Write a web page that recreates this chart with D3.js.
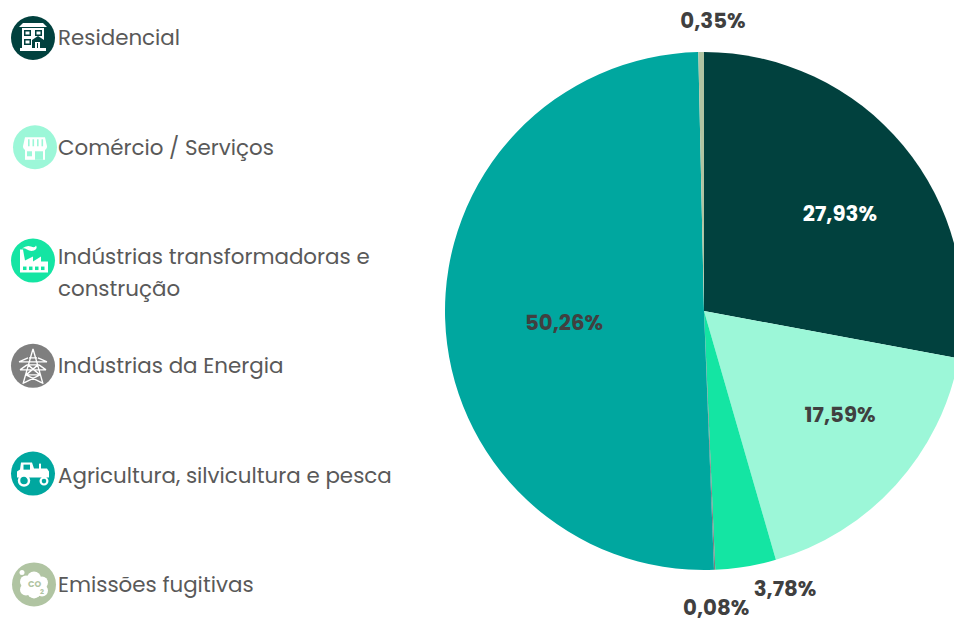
<!DOCTYPE html>
<html><head><meta charset="utf-8">
<script src="https://cdn.jsdelivr.net/npm/d3@7"></script>
<style>
html,body{margin:0;padding:0;background:#fff;overflow:hidden}
svg{display:block}
</style></head><body>
<svg id="c" width="954" height="618"></svg>
<script>
const categories=["Residencial","Comércio / Serviços","Indústrias transformadoras e construção","Indústrias da Energia","Agricultura, silvicultura e pesca","Emissões fugitivas"];
const legendLines=[["Residencial"],["Comércio / Serviços"],["Indústrias transformadoras e","construção"],["Indústrias da Energia"],["Agricultura, silvicultura e pesca"],["Emissões fugitivas"]];
const values=[27.93,17.59,3.78,0.08,50.26,0.35];
const valueLabels=["27,93%","17,59%","3,78%","0,08%","50,26%","0,35%"];
const colors=["#01413e","#9cf7d8","#14e5a3","#7f7f7f","#00a79f","#b0c4a2"];
const labelColors=["#ffffff","#404040","#404040","#404040","#404040","#404040"];

const svg=d3.select("#c");
const cx=704,cy=311,R=259;
const pie=d3.pie().value(d=>d).sort(null).startAngle(0).endAngle(2*Math.PI);
const arc=d3.arc().innerRadius(0).outerRadius(R);
const arcs=pie(values);
const g=svg.append("g").attr("transform",`translate(${cx},${cy})`);
g.selectAll("path").data(arcs).join("path").attr("d",arc).attr("fill",(d,i)=>colors[i]);

// label placement: polar offset from pie centre
const labelRadius=[0.647,0.659,1.114,1.147,0.542,1.124];
const labelShift=[3.9,-5.1,-7,0,-2.7,2.4];   // degrees
g.selectAll("text").data(arcs).join("text")
 .attr("transform",(d,i)=>{
   const a=(d.startAngle+d.endAngle)/2+labelShift[i]*Math.PI/180, r=labelRadius[i]*R;
   return `translate(${r*Math.sin(a)},${-r*Math.cos(a)})`;
 })
 .attr("text-anchor","middle").attr("dy","0.36em")
 .attr("font-family","Poppins, Inter, sans-serif").attr("font-weight",700).attr("font-size",21.3)
 .attr("fill",(d,i)=>labelColors[i])
 .text((d,i)=>valueLabels[i]);

// legend
const rowY=d3.scalePoint().domain(categories).range([38,584.4]);
const iconX=[33,35,33,33,33,34], iconDy=[0,0,4,0,-1.5,0];
const leg=svg.append("g").selectAll("g").data(categories).join("g");
leg.append("text")
 .attr("font-family","Poppins, 'Open Sans', sans-serif").attr("font-size",21.4).attr("fill","#595959")
 .each(function(c,i){
   d3.select(this).selectAll("tspan").data(legendLines[i]).join("tspan")
    .attr("x",58).attr("y",(l,j)=>rowY(c)+7.45+j*32).text(l=>l);
 });
const icons=leg.append("g").attr("transform",(c,i)=>`translate(${iconX[i]},${rowY(c)+iconDy[i]})`);
icons.append("circle").attr("r",22).attr("fill",(c,i)=>colors[i]);

const W="#fff";
function rect(s,x,y,w,h,f){return s.append("rect").attr("x",x).attr("y",y).attr("width",w).attr("height",h).attr("fill",f||W);}
function path(s,d,f,st,sw){return s.append("path").attr("d",d).attr("fill",f||"none").attr("stroke",st||"none").attr("stroke-width",sw||0).attr("stroke-linejoin","round");}

// house
{const s=icons.filter((c,i)=>i===0),D=colors[0];
 path(s,"M-14,-11 L-10,-15 L10,-15 L14,-11 Z",W);
 rect(s,-11,-10,22,21,W);
 rect(s,-9,-8,7,6,D); rect(s,-7.5,-6.5,4,3,W);
 rect(s,2,-8,7,6,D); rect(s,3.5,-6.5,4,3,W);
 rect(s,-9,1,7,6,D); rect(s,-7.5,2.5,4,3,W);
 path(s,"M-1,11 V2 L5,-2 L11,2 V11",D);
 path(s,"M2,11 V4 H7 V11",W); rect(s,4,5,1,6,D);
 rect(s,-13,10,26,3,W);}
// shop
{const s=icons.filter((c,i)=>i===1),D=colors[1];
 path(s,"M-10,-10 H10 L12,-1 Q12,2 9,3 H-9 Q-12,2 -12,-1 Z",W);
 [-7,-2.5,2,6.5].forEach(x=>rect(s,x,-8,1.6,7,D));
 rect(s,-10,2,20,10.5,W); rect(s,-8,4,5,5,D); rect(s,0,4,8,8.5,D);}
// factory
{const s=icons.filter((c,i)=>i===2),D=colors[2];
 path(s,"M-13,12 V-11 H-10 L-8,0 L0,-4 V1 L8,-4 V1 L15,1 V12 Z",W);
 path(s,"M-11,-12 Q-6,-16 -2,-14 Q2,-12 3,-15 Q5,-12 1,-10 Q-3,-9 -6,-11 Q-9,-13 -11,-12 Z",W);
 [-10,-4,2,8].forEach(x=>rect(s,x,6,3.5,3.5,D));}
// pylon
{const s=icons.filter((c,i)=>i===3);
 path(s,"M0,-17 L-10,18 M0,-17 L10,18 M-4,-8 H4 M-14,-4 H14 M-14,-4 L-5,-8 M14,-4 L5,-8 M-13,4 H13 M-13,4 L-6,-1 M13,4 L6,-1 M-6,-1 H6 M-7,9 H7 M-5,-1 L7,9 M5,-1 L-7,9 M-9,17 L7,9 M9,17 L-7,9",null,W,1.4);}
// tractor
{const s=icons.filter((c,i)=>i===4),D=colors[4];
 path(s,"M-16,3 V-2 L-13,-4 L-12,-11 H-1 L1,-5 H14 L16,-2 V4 H-16 Z",W);
 rect(s,-9.5,-9,6.5,5,D);
 rect(s,6,-10,2,6,W);
 s.append("circle").attr("cx",-9).attr("cy",7).attr("r",5).attr("fill",D).attr("stroke",W).attr("stroke-width",2.5);
 s.append("circle").attr("cx",11).attr("cy",7.5).attr("r",3.4).attr("fill",D).attr("stroke",W).attr("stroke-width",2.2);}
// co2 cloud
{const s=icons.filter((c,i)=>i===5),D=colors[5];
 [[-8,-3,6],[0,-6,7],[8,-2,6],[-8,5,6],[0,7,7],[8,6,6],[0,1,10]].forEach(p=>s.append("circle").attr("cx",p[0]).attr("cy",p[1]).attr("r",p[2]).attr("fill",W));
 s.append("circle").attr("cx",-12).attr("cy",-12).attr("r",2.5).attr("fill",W);
 s.append("text").attr("x",-6).attr("y",2.5).attr("font-family","Poppins,sans-serif").attr("font-weight",700).attr("font-size",8.5).attr("fill",D).text("CO");
 s.append("text").attr("x",6).attr("y",9.5).attr("font-family","Poppins,sans-serif").attr("font-weight",700).attr("font-size",7).attr("fill",D).text("2");}
</script>
</body></html>
